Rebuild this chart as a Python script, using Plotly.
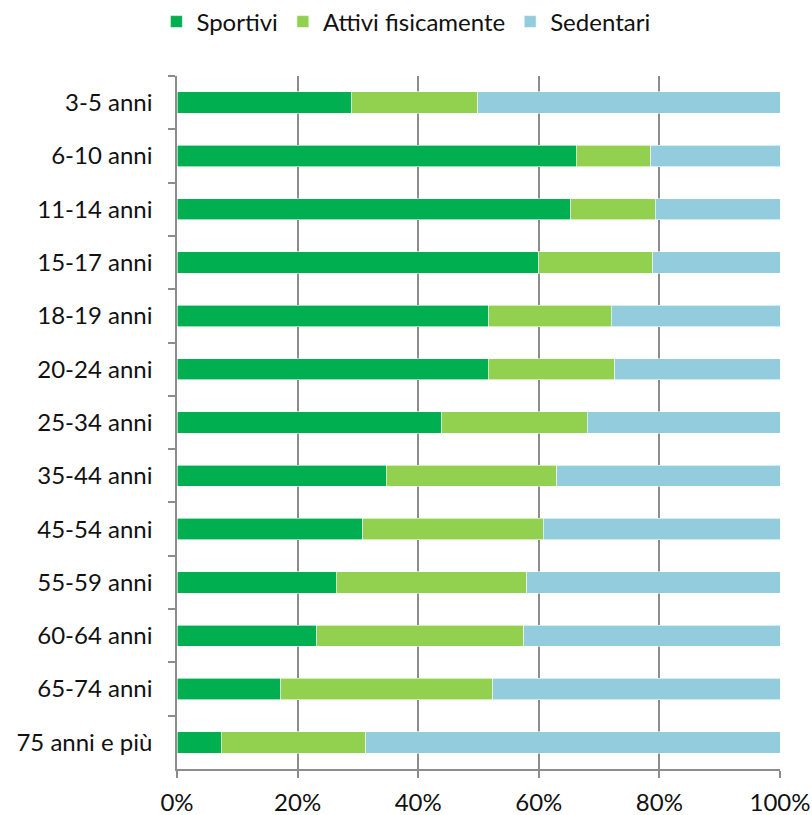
import plotly.graph_objects as go

categories = ["3-5 anni", "6-10 anni", "11-14 anni", "15-17 anni", "18-19 anni",
              "20-24 anni", "25-34 anni", "35-44 anni", "45-54 anni", "55-59 anni",
              "60-64 anni", "65-74 anni", "75 anni e più"]
sportivi = [29.0, 66.2, 65.3, 60.0, 51.7, 51.6, 43.9, 34.7, 30.8, 26.4, 23.2, 17.2, 7.3]
attivi = [20.9, 12.4, 14.0, 18.9, 20.3, 21.0, 24.1, 28.3, 29.9, 31.6, 34.3, 35.2, 24.0]
sedentari = [round(100 - s - a, 1) for s, a in zip(sportivi, attivi)]
series_names = ["Sportivi", "Attivi fisicamente", "Sedentari"]
colors = ["#00AF50", "#92D050", "#93CDDD"]
x_ticks = [0, 20, 40, 60, 80, 100]
x_ticklabels = ["0%", "20%", "40%", "60%", "80%", "100%"]

FONT = "Lato"
fig = go.Figure()
for name, vals, col in zip(series_names, [sportivi, attivi, sedentari], colors):
    fig.add_trace(go.Bar(
        y=categories, x=vals, name=name, orientation="h",
        marker=dict(color=col, line=dict(color="white", width=0.6)),
    ))

fig.update_layout(
    barmode="stack",
    bargap=0.6,
    width=812, height=815,
    margin=dict(l=177, r=32, t=76, b=46, autoexpand=False),
    paper_bgcolor="white", plot_bgcolor="white",
    font=dict(family=FONT, size=24, color="#111111"),
    legend=dict(orientation="h", xref="container", x=0.1926, xanchor="left",
                yref="container", y=0.973, yanchor="middle",
                traceorder="normal", font=dict(size=24), itemwidth=30,
                tracegroupgap=0),
    showlegend=True,
)
fig.update_xaxes(
    range=[0, 100], tickvals=x_ticks, ticktext=x_ticklabels,
    showgrid=True, gridcolor="#8c8c8c", gridwidth=1.5,
    showline=True, linecolor="#8c8c8c", linewidth=1.5,
    ticks="outside", ticklen=7, tickcolor="#8c8c8c", tickwidth=1.5,
    zeroline=False, automargin=False, ticklabelstandoff=4,
)
fig.update_yaxes(
    autorange="reversed", type="category",
    showline=True, linecolor="#8c8c8c", linewidth=1.5,
    ticks="outside", ticklen=7, tickcolor="#8c8c8c", tickwidth=1.5,
    tickson="boundaries", showgrid=False, automargin=False, ticklabelstandoff=18,
)
fig.write_html("out.html", config={"displayModeBar": False},
               post_script="document.body.style.margin='0';document.body.style.overflow='hidden';")
